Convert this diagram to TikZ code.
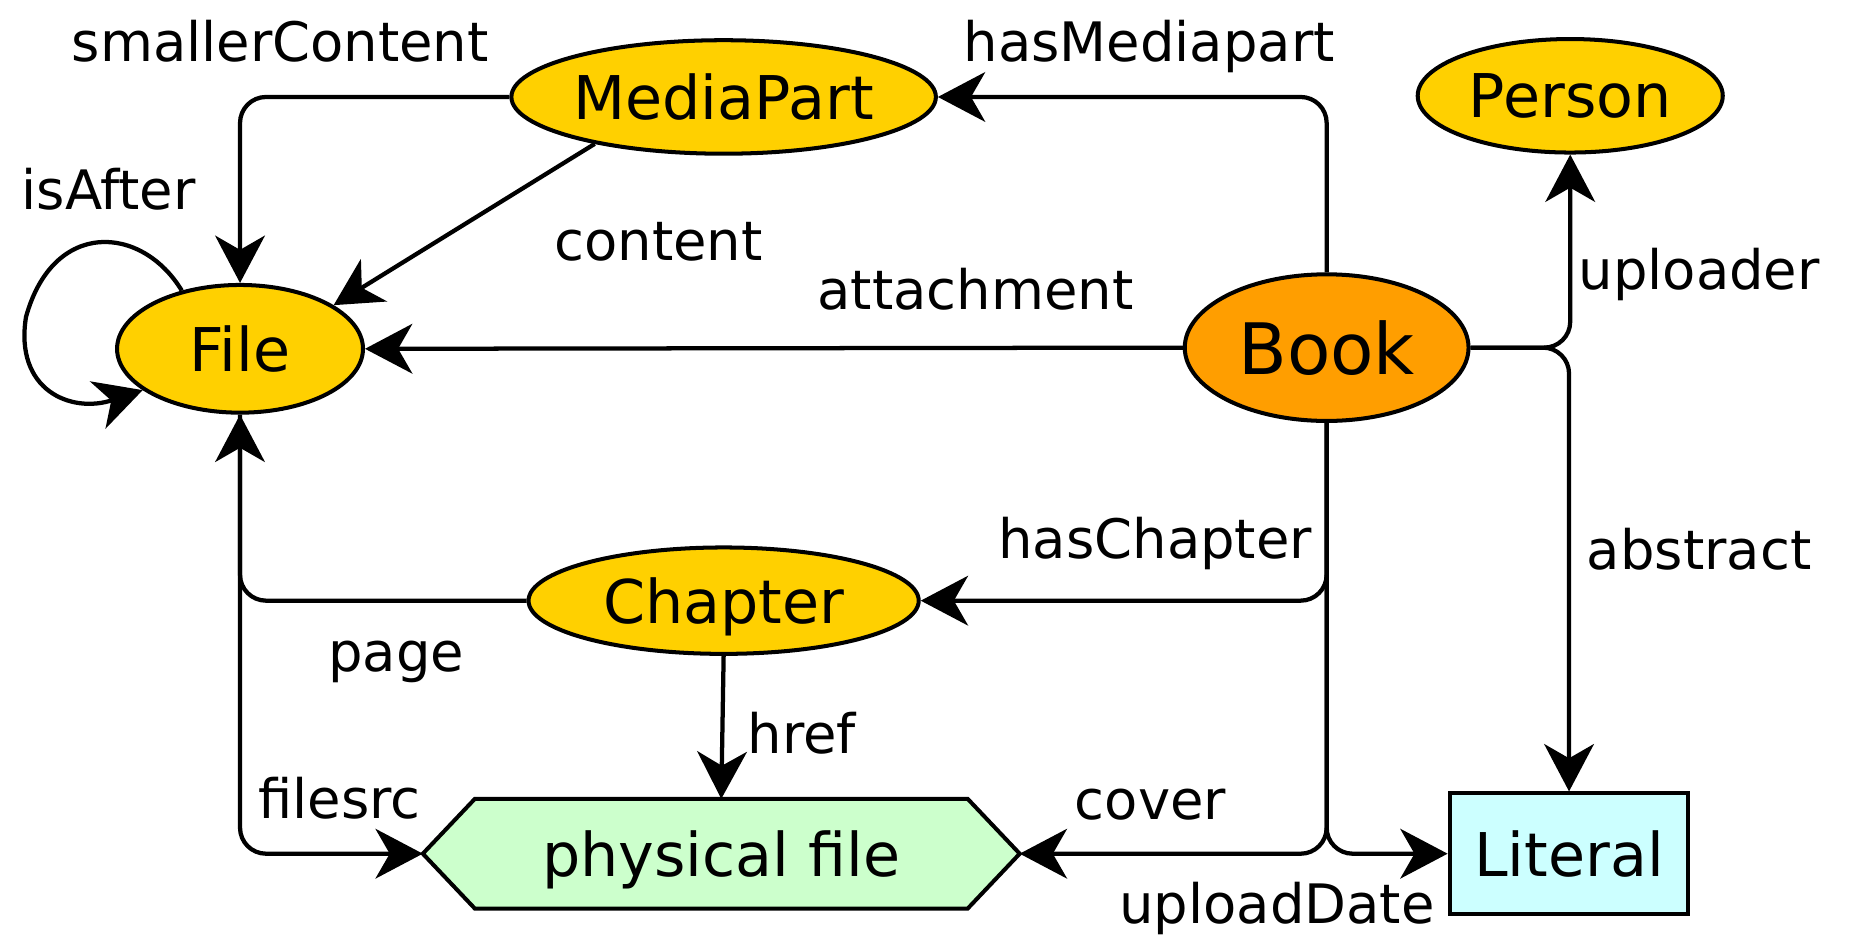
\documentclass[tikz,border=0pt]{standalone}
\usepackage{fontspec}
\setmainfont{DejaVu Sans}
\usetikzlibrary{arrows.meta,backgrounds,shapes.geometric}
\definecolor{gold}{HTML}{FFD000}
\definecolor{bookorange}{HTML}{FF9E00}
\definecolor{pfgreen}{HTML}{CCFFCC}
\definecolor{litcyan}{HTML}{CCFFFF}
\begin{document}
\begin{tikzpicture}[x=0.5pt,y=-0.5pt,
  cls/.style={ellipse, draw, line width=1.7pt, fill=gold, inner sep=0pt, text depth=0pt,
              font=\fontsize{25.5pt}{30pt}\selectfont},
  edge/.style={line width=1.8pt, -{Stealth[length=20pt,width=21pt,inset=6pt]}, rounded corners=11pt},
  lbl/.style={anchor=base, inner sep=0pt, font=\fontsize{23pt}{28pt}\selectfont}]
\useasboundingbox (0,0) rectangle (1568,793);

% nodes
\node[cls, minimum width=179pt, minimum height=48pt] (MediaPart) at (612,82) {MediaPart};
\node[cls, minimum width=129pt, minimum height=48pt] (Person) at (1328,81) {Person};
\node[cls, minimum width=104pt, minimum height=54pt] (File) at (203,295) {File};
\node[cls, fill=bookorange, minimum width=120pt, minimum height=62pt,
      font=\fontsize{30pt}{34pt}\selectfont] (Book) at (1122,294) {Book};
\node[cls, minimum width=165pt, minimum height=45pt] (Chapter) at (612,508) {Chapter};
\node[inner sep=0pt, text depth=0pt, minimum width=252pt, minimum height=46pt,
      font=\fontsize{25.5pt}{30pt}\selectfont] (pf) at (610,722) {physical file};
\node[draw, line width=1.7pt, fill=litcyan, inner sep=0pt, text depth=0pt,
      minimum width=101pt, minimum height=51pt,
      font=\fontsize{25.5pt}{30pt}\selectfont] (Literal) at (1327,722) {Literal};
\begin{pgfonlayer}{background}
\fill[white] (0,0) rectangle (1568,793);
\draw[line width=1.7pt, fill=pfgreen, line join=miter]
  (pf.west) -- ([xshift=22pt]pf.north west) -- ([xshift=-22pt]pf.north east)
  -- (pf.east) -- ([xshift=-22pt]pf.south east) -- ([xshift=22pt]pf.south west) -- cycle;
\end{pgfonlayer}

% edges
\draw[edge] (MediaPart.west) -| (File.north);
\draw[edge] (MediaPart.200) -- (File.25);
\draw[edge, sharp corners] (File.135) .. controls (120,190) and (45,185) .. (22,268)
   .. controls (12,330) and (60,350) .. (File.203);
\draw[edge] (Book.north) |- (MediaPart.east);
\draw[edge] (Book.west) -- (File.east);
\draw[edge] (Book.east) -| (Person.south);
\draw[edge] (Book.east) -| (Literal.north);
\draw[edge] (Book.south) |- (Chapter.east);
\draw[edge] (Book.south) |- (pf.east);
\draw[edge] (Book.south) |- (Literal.west);
\draw[edge] (Chapter.west) -| (File.south);
\draw[edge] (File.south) |- (pf.west);
\draw[edge] (Chapter.south) -- (pf.north);

% labels
\node[lbl] (l1) at (237,52) {smallerContent};
\node[lbl] (l2) at (92,177) {isAfter};
\node[lbl] (l3) at (557,220) {content};
\node[lbl] (l4) at (972,52) {hasMediapart};
\node[lbl] (l5) at (825,262) {attachment};
\node[lbl] (l6) at (1437,245) {uploader};
\node[lbl] (l7) at (1437,482) {abstract};
\node[lbl] (l8) at (977,472) {hasChapter};
\node[lbl] (l9) at (335,568) {page};
\node[lbl] (l10) at (678,637) {href};
\node[lbl] (l11) at (287,692) {filesrc};
\node[lbl] (l12) at (973,693) {cover};
\node[lbl] (l13) at (1080,781) {uploadDate};
\end{tikzpicture}
\end{document}
